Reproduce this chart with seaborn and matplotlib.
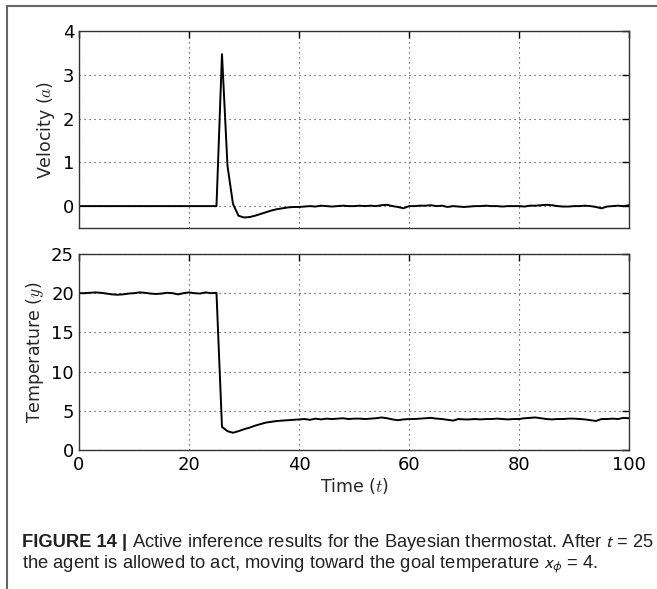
import matplotlib
matplotlib.use("Agg")
import matplotlib.pyplot as plt
import seaborn as sns
from matplotlib.lines import Line2D

# Time steps
time = list(range(0, 101))

# Velocity (a)
velocity = [
    0.0, 0.0, 0.0, 0.0, 0.0, 0.0, 0.0, 0.0, 0.0, 0.0,
    0.0, 0.0, 0.0, 0.0, 0.0, 0.0, 0.0, 0.0, 0.0, 0.0,
    0.0, 0.0, 0.0, 0.0, 0.0, 0.0,
    3.47, 0.92, 0.05, -0.22, -0.26, -0.25, -0.22, -0.18, -0.14, -0.10,
    -0.07, -0.05, -0.03, -0.02, -0.02,
    -0.01, 0.0, -0.01, 0.01, 0.0, -0.01, 0.0, 0.01, 0.0, 0.0,
    0.01, 0.0, 0.01, 0.0, 0.02, 0.03, 0.0, -0.02, -0.05, 0.0,
    0.0, 0.01, 0.01, 0.02, 0.0, 0.01, -0.02, 0.0, -0.01, -0.02,
    -0.01, 0.0, 0.0, 0.01, 0.0, 0.0, -0.01, 0.0, 0.0, 0.0,
    -0.01, 0.01, 0.01, 0.02, 0.03, 0.02, 0.0, -0.01, -0.01, 0.0,
    0.0, 0.01, 0.0, -0.02, -0.05, -0.01, 0.0, 0.01, 0.0, 0.02,
]

# Temperature (y)
temperature = [
    20.0, 20.0, 20.05, 20.1, 20.05, 19.95, 19.85, 19.8, 19.85, 19.95,
    20.0, 20.1, 20.05, 19.95, 19.9, 19.95, 20.05, 20.0, 19.85, 20.0,
    20.1, 20.0, 19.95, 20.1, 20.0, 20.05,
    2.95, 2.4, 2.2, 2.4, 2.65, 2.85, 3.1, 3.3, 3.5, 3.6,
    3.7, 3.75, 3.8, 3.85, 3.9,
    3.95, 3.85, 4.0, 3.9, 4.0, 3.95, 4.0, 4.05, 3.95, 4.0,
    4.0, 3.95, 4.0, 4.05, 4.15, 4.05, 3.9, 3.8, 3.9, 3.95,
    3.95, 4.0, 4.05, 4.1, 4.0, 3.95, 3.85, 3.75, 3.95, 3.9,
    3.9, 3.95, 3.9, 3.95, 3.95, 4.0, 3.95, 3.9, 3.95, 3.95,
    4.05, 4.1, 4.15, 4.05, 3.95, 3.9, 3.95, 3.95, 4.0, 4.0,
    3.95, 3.9, 3.8, 3.7, 3.95, 3.95, 4.0, 3.95, 4.1, 4.05,
]

x_ticks = [0, 20, 40, 60, 80, 100]
vel_ticks = [0, 1, 2, 3, 4]
temp_ticks = [0, 5, 10, 15, 20, 25]

sns.set_style("white")
plt.rcParams.update({
    "font.family": ["DejaVu Sans"],
    "mathtext.fontset": "cm",
    "axes.edgecolor": "black",
    "axes.linewidth": 1.0,
    "xtick.direction": "in",
    "ytick.direction": "in",
    "xtick.top": True,
    "ytick.right": True,
    "xtick.major.size": 5,
    "ytick.major.size": 5,
    "xtick.major.width": 1.0,
    "ytick.major.width": 1.0,
    "xtick.color": "black",
    "ytick.color": "black",
    "xtick.labelsize": 13,
    "ytick.labelsize": 13,
    "axes.labelsize": 12.5,
})

fig = plt.figure(figsize=(6.57, 5.89), dpi=100)
ax1 = fig.add_axes([0.1202, 0.6129, 0.8372, 0.3345])
ax2 = fig.add_axes([0.1202, 0.2360, 0.8372, 0.3328])

sns.lineplot(x=time, y=velocity, ax=ax1, color="black", linewidth=1.4)
sns.lineplot(x=time, y=temperature, ax=ax2, color="black", linewidth=1.4)

for ax in (ax1, ax2):
    ax.set_xlim(0, 100)
    ax.set_xticks(x_ticks)
    ax.grid(True, color="#333333", linestyle=(0, (1, 3.5)), linewidth=0.8)
    for s in ax.spines.values():
        s.set_visible(True)
        s.set_color("#333333")

ax1.set_ylim(-0.5, 4)
ax1.set_yticks(vel_ticks)
ax1.set_xticklabels([])
ax1.set_ylabel("Velocity ($a$)")

ax2.set_ylim(0, 25)
ax2.set_yticks(temp_ticks)
ax2.set_ylabel("Temperature ($y$)")
ax2.set_xlabel("Time ($t$)", labelpad=2)
ax2.tick_params(axis="x", pad=4)

# page frame around figure + caption
fig.add_artist(Line2D([7 / 657, 1.0], [1 - 6 / 589, 1 - 6 / 589],
                      transform=fig.transFigure, color="#666666", lw=1.5))
fig.add_artist(Line2D([7 / 657, 7 / 657], [0.0, 1 - 6 / 589],
                      transform=fig.transFigure, color="#666666", lw=1.5))

cap_font = ["Liberation Sans Narrow", "Liberation Sans", "DejaVu Sans"]
cap_size = 13.2
t1 = fig.text(22 / 657, 1 - 547 / 589, "FIGURE 14 | ", family=cap_font,
              fontsize=cap_size, fontweight="bold", color="#222222", va="baseline")
fig.canvas.draw()
ext = t1.get_window_extent()
fig.text(ext.x1 / fig.bbox.width, 1 - 547 / 589,
         "Active inference results for the Bayesian thermostat. After $t$ = 25",
         family=cap_font, fontsize=cap_size, color="#222222", va="baseline",
         math_fontfamily="stixsans")
fig.text(22 / 657, 1 - 568 / 589,
         r"the agent is allowed to act, moving toward the goal temperature $x_{\phi}$ = 4.",
         family=cap_font, fontsize=cap_size, color="#222222", va="baseline",
         math_fontfamily="stixsans")

fig.savefig("out.png", dpi=100)
